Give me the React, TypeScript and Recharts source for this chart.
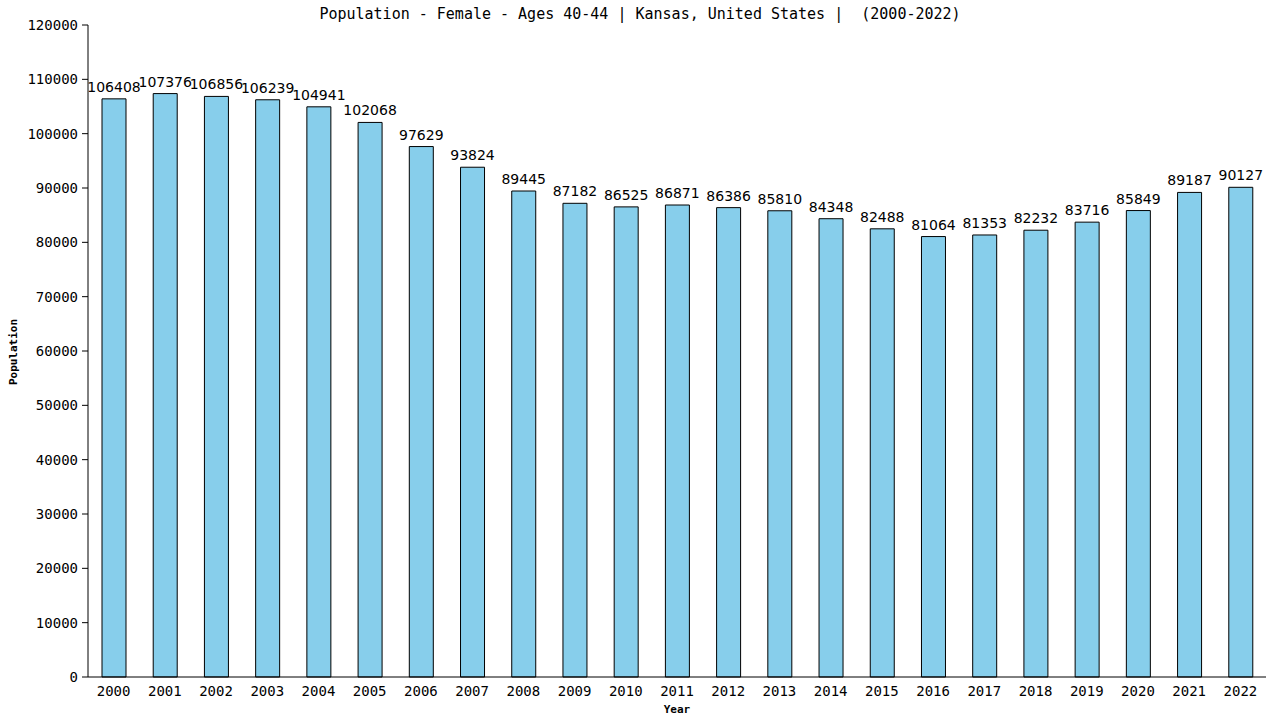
import React from 'react';
import { BarChart, Bar, XAxis, YAxis, LabelList } from 'recharts';

const years = ['2000','2001','2002','2003','2004','2005','2006','2007','2008','2009','2010','2011','2012','2013','2014','2015','2016','2017','2018','2019','2020','2021','2022'];
const population = [106408,107376,106856,106239,104941,102068,97629,93824,89445,87182,86525,86871,86386,85810,84348,82488,81064,81353,82232,83716,85849,89187,90127];
const yTicks = [0,10000,20000,30000,40000,50000,60000,70000,80000,90000,100000,110000,120000];
const titleText = 'Population - Female - Ages 40-44 | Kansas, United States |  (2000-2022)';

const data = years.map((y, i) => ({ year: y, value: population[i] }));

const mono = '"DejaVu Sans Mono", monospace';

export default function App() {
  return (
    <div style={{ position: 'absolute', left: 0, top: 0, width: 1280, height: 720, background: '#fff' }}>
      <div style={{ position: 'absolute', left: 0, top: 5, width: 1280, textAlign: 'center', fontFamily: mono, fontSize: 15, color: '#000', whiteSpace: 'pre', lineHeight: '18px' }}>
        {titleText}
      </div>
      <div style={{ position: 'absolute', left: 13, top: 352, transform: 'translate(-50%, -50%) rotate(-90deg)', fontFamily: mono, fontSize: 11, fontWeight: 'bold', whiteSpace: 'pre' }}>
        Population
      </div>
      <BarChart width={1280} height={720} data={data} margin={{ top: 25, right: 14, bottom: 0, left: 0 }} barSize={24}>
        <XAxis
          dataKey="year"
          height={43}
          tickLine={false}
          axisLine={{ stroke: '#000' }}
          tick={{ fill: '#000', fontFamily: mono, fontSize: 14 }}
          tickMargin={3}
          interval={0}
          label={{ value: 'Year', position: 'insideBottom', offset: 7, fill: '#000', fontFamily: mono, fontSize: 11, fontWeight: 'bold' }}
        />
        <YAxis
          width={88}
          domain={[0, 120000]}
          ticks={yTicks}
          interval={0}
          axisLine={{ stroke: '#000' }}
          tickLine={{ stroke: '#000' }}
          tickSize={6}
          tickMargin={4}
          tick={{ fill: '#000', fontFamily: mono, fontSize: 14 }}
        />
        <YAxis
          yAxisId="right"
          orientation="right"
          width={0}
          domain={[0, 120000]}
          tick={false}
          tickLine={false}
          axisLine={{ stroke: '#000' }}
        />
        <Bar dataKey="value" fill="#87CEEB" stroke="#000" strokeWidth={1} isAnimationActive={false}>
          <LabelList dataKey="value" position="top" offset={7} fill="#000" style={{ fontFamily: '"DejaVu Sans", sans-serif', fontSize: 14 }} />
        </Bar>
      </BarChart>
    </div>
  );
}
